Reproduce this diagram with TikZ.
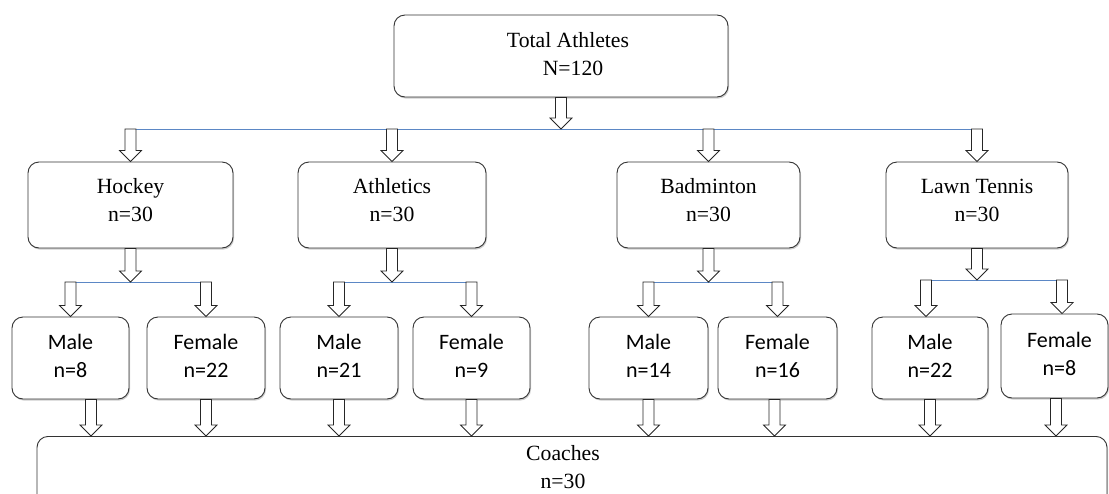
\documentclass[tikz,border=0pt]{standalone}
\usepackage{fontspec}
\setmainfont{Liberation Serif}
\newfontfamily\calibri{Carlito}
\usetikzlibrary{calc,shadows}
\definecolor{busblue}{HTML}{5B87C5}
\newcommand{\blockarrow}[2]{%
  \draw[barrowstyle] let \p1=(#1), \p2=(#2) in
    (\x1-5.5pt,\y1) -- (\x1-5.5pt,\y2+11pt) -- (\x1-11pt,\y2+11pt) -- (\x1,\y2)
    -- (\x1+11pt,\y2+11pt) -- (\x1+5.5pt,\y2+11pt) -- (\x1+5.5pt,\y1) -- cycle;}
\begin{document}
\begin{tikzpicture}[x=1pt,y=-1pt,
  boxbase/.style={draw=black!80, line width=0.9pt, rounded corners=11pt, fill=white,
    drop shadow={shadow xshift=1pt, shadow yshift=-1.6pt, opacity=0.35, fill=black!55},
    align=center, inner sep=0pt},
  serifbox/.style={boxbase, font=\fontsize{21.7}{28}\selectfont},
  sansbox/.style={boxbase, font=\calibri\fontsize{22}{28}\selectfont,
    minimum height=82pt, text depth=4pt},
  busline/.style={draw=busblue, line width=0.8pt},
  barrowstyle/.style={draw=black!85, line width=0.8pt, fill=white}]
\useasboundingbox (0,0) rectangle (1109,493);
\clip (0,0) rectangle (1109,493);

% top
\node[serifbox, minimum width=334pt, minimum height=82pt, text depth=4pt] (top) at (561,56)
  {\hspace*{14pt}Total Athletes\\\hspace*{24pt}N=120};

% sports
\node[serifbox, minimum width=205pt, minimum height=86pt, text depth=10pt] (hockey) at (130.5,205) {Hockey\\n=30};
\node[serifbox, minimum width=188pt, minimum height=86pt, text depth=10pt] (athl) at (392,205) {Athletics\\n=30};
\node[serifbox, minimum width=183pt, minimum height=86pt, text depth=10pt] (badm) at (708.5,205) {Badminton\\n=30};
\node[serifbox, minimum width=182pt, minimum height=86pt, text depth=10pt] (lawn) at (977,205) {Lawn Tennis\\n=30};

% gender
\node[sansbox, minimum width=117pt] (hm) at (70.5,358) {Male\\n=8};
\node[sansbox, minimum width=118pt] (hf) at (206,358) {Female\\n=22};
\node[sansbox, minimum width=118pt] (am) at (339,358) {Male\\n=21};
\node[sansbox, minimum width=117pt] (af) at (471.5,358) {Female\\n=9};
\node[sansbox, minimum width=119pt] (bm) at (648.5,358) {Male\\n=14};
\node[sansbox, minimum width=119pt] (bf) at (777.5,358) {Female\\n=16};
\node[sansbox, minimum width=116pt] (lm) at (930,358) {Male\\n=22};
\node[sansbox, minimum width=107pt, minimum height=84pt, text depth=5pt] (lf) at (1054.5,356) {\hspace*{10pt}Female\\\hspace*{10pt}n=8};

% coaches
\node[boxbase, minimum width=1070pt, minimum height=90pt, anchor=north] (coach) at (572,436) {};
\node[font=\fontsize{21.7}{28}\selectfont, align=center, inner sep=0pt] (coachtxt) at (563,467) {Coaches\\n=30};

% bus coordinates
\coordinate (bus1) at (561,129);
\coordinate (bus2) at (0,282);
\coordinate (bus2l) at (0,280);

% top-level connectors
\draw[busline] (hockey.north |- bus1) -- (lawn.north |- bus1);
\blockarrow{top.south}{bus1}
\blockarrow{hockey.north |- bus1}{hockey.north}
\blockarrow{athl.north |- bus1}{athl.north}
\blockarrow{badm.north |- bus1}{badm.north}
\blockarrow{lawn.north |- bus1}{lawn.north}

% second-level buses
\draw[busline] (hm.north |- bus2) -- (hf.north |- bus2);
\draw[busline] (am.north |- bus2) -- (af.north |- bus2);
\draw[busline] ($(bm.north |- bus2)+(-4,0)$) -- (bf.north |- bus2);
\draw[busline] ($(lm.north |- bus2l)+(-6,0)$) -- ($(lf.north |- bus2l)+(8,0)$);

\blockarrow{hockey.south}{hockey.south |- bus2}
\blockarrow{athl.south}{athl.south |- bus2}
\blockarrow{badm.south}{badm.south |- bus2}
\blockarrow{lawn.south}{lawn.south |- bus2l}

\blockarrow{hm.north |- bus2}{hm.north}
\blockarrow{hf.north |- bus2}{hf.north}
\blockarrow{am.north |- bus2}{am.north}
\blockarrow{af.north |- bus2}{af.north}
\blockarrow{bm.north |- bus2}{bm.north}
\blockarrow{bf.north |- bus2}{bf.north}
\blockarrow{$(lm.north |- bus2l)+(-4,0)$}{lm.north}
\blockarrow{$(lf.north |- bus2l)+(7.5,0)$}{lf.north}

% to coaches
\blockarrow{$(hm.south)+(20.5,0)$}{coach.north}
\blockarrow{hf.south}{coach.north}
\blockarrow{am.south}{coach.north}
\blockarrow{af.south}{coach.north}
\blockarrow{bm.south}{coach.north}
\blockarrow{$(bf.south)+(-3,0)$}{coach.north}
\blockarrow{lm.south}{coach.north}
\blockarrow{$(lf.south)+(1.5,0)$}{coach.north}
\end{tikzpicture}
\end{document}
